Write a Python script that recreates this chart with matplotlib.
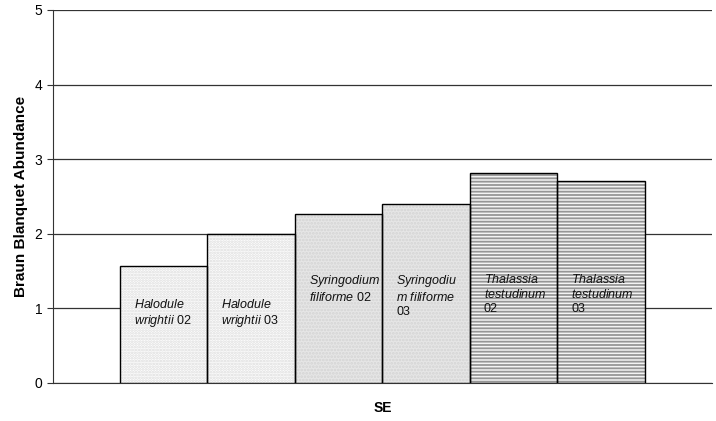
import matplotlib.pyplot as plt
import numpy as np

plt.rcParams['font.family'] = 'Liberation Sans'
plt.rcParams['mathtext.fontset'] = 'custom'
plt.rcParams['mathtext.rm'] = 'Liberation Sans'
plt.rcParams['mathtext.it'] = 'Liberation Sans:italic'
plt.rcParams['hatch.linewidth'] = 1.3

# bar labels (species italic, year upright) and values
labels = [r'$\mathit{Halodule}$' + '\n' + r'$\mathit{wrightii}$ 02',
          r'$\mathit{Halodule}$' + '\n' + r'$\mathit{wrightii}$ 03',
          r'$\mathit{Syringodium}$' + '\n' + r'$\mathit{filiforme}$ 02',
          r'$\mathit{Syringodiu}$' + '\n' + r'$\mathit{m\ filiforme}$' + '\n03',
          r'$\mathit{Thalassia}$' + '\n' + r'$\mathit{testudinum}$' + '\n02',
          r'$\mathit{Thalassia}$' + '\n' + r'$\mathit{testudinum}$' + '\n03']
values = [1.57, 2.0, 2.26, 2.40, 2.82, 2.71]
yticks = [0, 1, 2, 3, 4, 5]
xlabel = 'SE'
ylabel = 'Braun Blanquet Abundance'

# fill styles per bar
faces = ['#fdfdfd', '#fdfdfd', '#e6e6e6', '#e6e6e6', '#f4f4f4', '#f4f4f4']
hatches = ['.' * 6, '.' * 6, '.' * 5, '.' * 5, '-' * 5, '-' * 5]
hcolors = ['#dcdcdc', '#dcdcdc', '#d4d4d4', '#d4d4d4', '#969696', '#969696']
label_y = [1.14, 1.14, 1.47, 1.47, 1.47, 1.47]

fig = plt.figure(figsize=(7.16, 4.21), dpi=100)
ax = fig.add_axes([0.074, 0.0903, 0.920, 0.886])

x = np.arange(len(values))
for i in range(len(values)):
	ax.bar(x[i], values[i], width=1.0, color=faces[i], hatch=hatches[i],
		edgecolor=hcolors[i], linewidth=0, zorder=3)
	ax.bar(x[i], values[i], width=1.0, fill=False, edgecolor='black',
		linewidth=1.0, zorder=4)
	ax.text(x[i] - 0.5 + 0.16, label_y[i], labels[i], fontsize=9,
		ha='left', va='top', linespacing=1.2, color='#111111', zorder=5)

ax.set_xlim(-1.266, 6.266)
ax.set_ylim(0, 5)
ax.set_yticks(yticks)
ax.set_xticks([])
ax.yaxis.grid(True, color='#333333', linewidth=0.9)
ax.set_axisbelow(True)
for s in ['top', 'right']:
	ax.spines[s].set_visible(False)
ax.spines['left'].set_color('#333333')
ax.spines['bottom'].set_color('#333333')
ax.tick_params(axis='y', length=4, labelsize=10, color='#333333')
ax.set_xlabel(xlabel, fontsize=10, fontweight='bold', labelpad=13)
ax.set_ylabel(ylabel, fontsize=11, fontweight='bold', labelpad=5)

fig.savefig('out.png', dpi=100)
